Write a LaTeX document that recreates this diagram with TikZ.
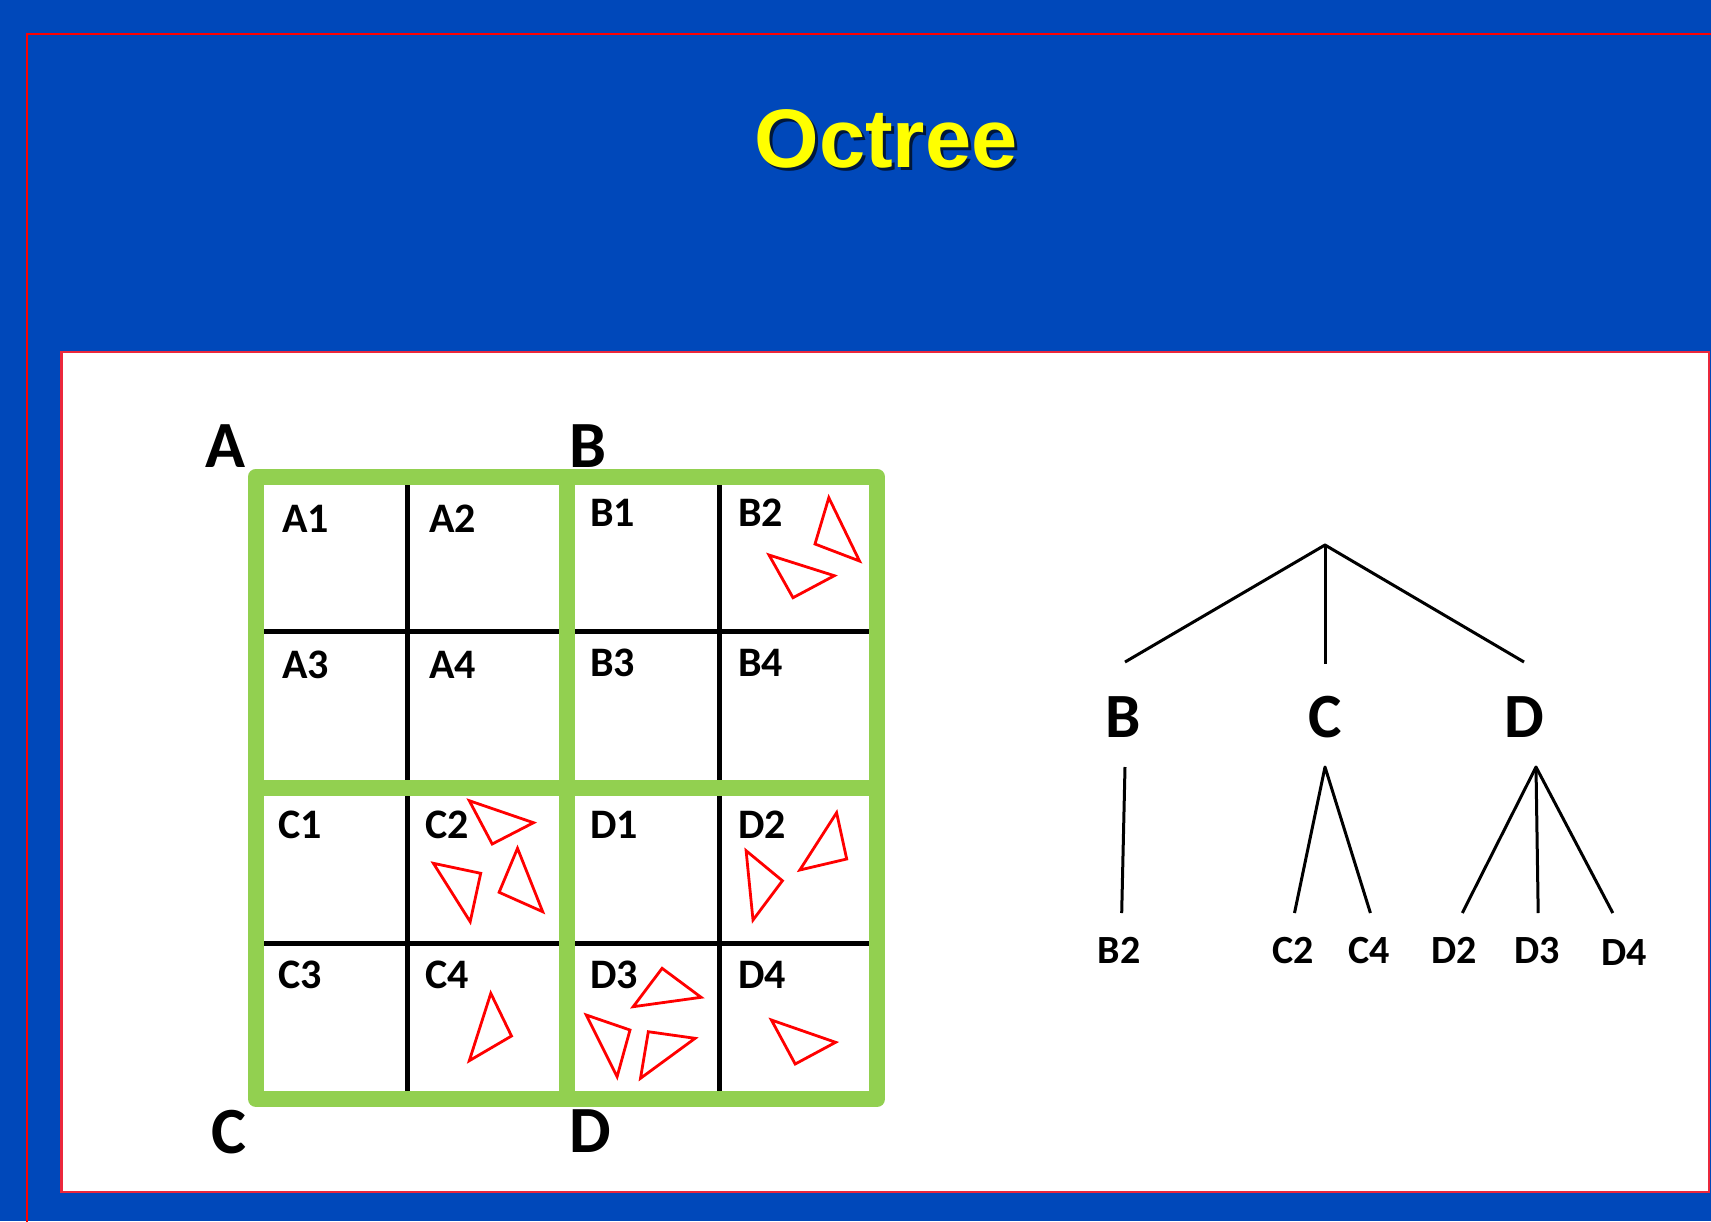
\documentclass[tikz,border=0pt]{standalone}
\usepackage{fontspec}
\setmainfont{Carlito}
\newfontfamily\titlefont{Liberation Sans}
\definecolor{slideblue}{RGB}{0,72,186}
\definecolor{gridgreen}{RGB}{146,208,80}
\definecolor{framered}{RGB}{255,0,0}
\definecolor{panelred}{RGB}{235,40,60}
\definecolor{titleyellow}{RGB}{255,255,0}
\tikzset{
  celllabel/.style={anchor=base west, inner sep=0pt, font=\fontsize{42}{42}\selectfont\bfseries},
  cornerlabel/.style={anchor=base west, inner sep=0pt, font=\fontsize{66}{66}\selectfont\bfseries},
  treelabel/.style={anchor=base, inner sep=0pt, font=\fontsize{63}{63}\selectfont\bfseries},
  leaflabel/.style={anchor=base, inner sep=0pt, font=\fontsize{40}{40}\selectfont\bfseries},
  divider/.style={draw=black, line width=5pt},
  greenbar/.style={draw=gridgreen, line width=16pt},
  tri/.style={draw=framered, line width=2.8pt, line join=miter},
  branch/.style={draw=black, line width=3pt}
}
\begin{document}
\begin{tikzpicture}[x=1pt,y=-1pt]
  % slide background and frames
  \fill[slideblue] (0,0) rectangle (1711,1221);
  \useasboundingbox (0,0) rectangle (1711,1221);
  \begin{scope}
    \clip (0,0) rectangle (1711,1221);
    \draw[framered, line width=2.5pt] (27,34) rectangle (1760,1260);
  \end{scope}
  \draw[draw=panelred, fill=white, line width=2.5pt] (61.5,352) rectangle (1709,1192);

  % title with drop shadow
  \node[anchor=base, inner sep=0pt, text=black!85!slideblue, opacity=0.8,
        font=\titlefont\fontsize{83}{83}\selectfont\bfseries] (titleshadow) at (889,170) {Octree};
  \node[anchor=base, inner sep=0pt, text=titleyellow,
        font=\titlefont\fontsize{83}{83}\selectfont\bfseries] (title) at (886,167) {Octree};

  % black dividers of the sub-cells
  \draw[divider] (407,476) -- (407,1099);
  \draw[divider] (719,476) -- (719,1099);
  \draw[divider] (256,631) -- (877,631);
  \draw[divider] (256,943) -- (877,943);

  % green quadrant frame
  \draw[greenbar, line join=round] (256,476.5) rectangle (877,1099);
  \draw[greenbar] (567,476.5) -- (567,1099);
  \draw[greenbar] (256,788) -- (877,788);

  % quadrant corner labels
  \node[cornerlabel] (qA) at (205,467) {A};
  \node[cornerlabel] (qB) at (569,467) {B};
  \node[cornerlabel] (qC) at (211,1153) {C};
  \node[cornerlabel] (qD) at (569,1152) {D};

  % cell labels
  \node[celllabel] (A1) at (282,532) {A1};
  \node[celllabel] (A2) at (429,532) {A2};
  \node[celllabel] (B1) at (590,526) {B1};
  \node[celllabel] (B2) at (738,526) {B2};
  \node[celllabel] (A3) at (282,678) {A3};
  \node[celllabel] (A4) at (429,678) {A4};
  \node[celllabel] (B3) at (590,676) {B3};
  \node[celllabel] (B4) at (738,676) {B4};
  \node[celllabel] (C1) at (278,838) {C1};
  \node[celllabel] (C2) at (425,838) {C2};
  \node[celllabel] (D1) at (590,838) {D1};
  \node[celllabel] (D2) at (738,838) {D2};
  \node[celllabel] (C3) at (278,988) {C3};
  \node[celllabel] (C4) at (425,988) {C4};
  \node[celllabel] (D3) at (590,988) {D3};
  \node[celllabel] (D4) at (738,988) {D4};

  % triangles (objects) in the cells
  % B2
  \draw[tri] (828.8,497.7) -- (859.5,561) -- (815,544) -- cycle;
  \draw[tri] (769,555) -- (834.3,575.7) -- (793,597.7) -- cycle;
  % C2
  \draw[tri] (469.3,800.7) -- (533.5,822.7) -- (492.2,844) -- cycle;
  \draw[tri] (433.4,863.3) -- (480.7,873.3) -- (470.2,921.7) -- cycle;
  \draw[tri] (517.5,848.3) -- (542.7,911.7) -- (499.1,892.3) -- cycle;
  % D2
  \draw[tri] (836.6,812.7) -- (846.7,859) -- (799.8,870) -- cycle;
  \draw[tri] (746.1,850.7) -- (782.4,880.7) -- (753,920) -- cycle;
  % C4
  \draw[tri] (490.8,993.3) -- (511.5,1036) -- (469.3,1060.7) -- cycle;
  % D3
  \draw[tri] (662.1,968.3) -- (701.1,997.3) -- (633.2,1006.7) -- cycle;
  \draw[tri] (586.3,1015) -- (630,1030) -- (617.1,1076.7) -- cycle;
  \draw[tri] (648.3,1031.7) -- (695.1,1038.3) -- (640.5,1078.3) -- cycle;
  % D4
  \draw[tri] (771.4,1020) -- (835.6,1042.3) -- (795.2,1064) -- cycle;

  % tree
  \coordinate (root) at (1325,545);
  \node[treelabel] (tB) at (1123,737) {B};
  \node[treelabel] (tC) at (1325,737) {C};
  \node[treelabel] (tD) at (1524,737) {D};
  \coordinate (tBin) at (1125,662);
  \coordinate (tCin) at (1325,664);
  \coordinate (tDin) at (1524,662);
  \coordinate (tBout) at (1125,767);
  \coordinate (tCout) at (1325,767);
  \coordinate (tDout) at (1536,767);

  \node[leaflabel] (lB2) at (1119,963) {B2};
  \node[leaflabel] (lC2) at (1293.5,963) {C2};
  \node[leaflabel] (lC4) at (1369.5,963) {C4};
  \node[leaflabel] (lD2) at (1454,963) {D2};
  \node[leaflabel] (lD3) at (1537,963) {D3};
  \node[leaflabel] (lD4) at (1624,965) {D4};
  \coordinate (lB2in) at (1121.7,913);
  \coordinate (lC2in) at (1294.5,913);
  \coordinate (lC4in) at (1370.4,913);
  \coordinate (lD2in) at (1462.3,913);
  \coordinate (lD3in) at (1538.2,913);
  \coordinate (lD4in) at (1612.8,913);

  \draw[branch, line join=round] (tBin) -- (root) -- (tDin);
  \draw[branch] (root) -- (tCin);
  \draw[branch] (tBout) -- (lB2in);
  \draw[branch, line join=round] (lC2in) -- (tCout) -- (lC4in);
  \draw[branch, line join=round] (lD2in) -- (tDout) -- (lD4in);
  \draw[branch] (tDout) -- (lD3in);
\end{tikzpicture}
\end{document}
